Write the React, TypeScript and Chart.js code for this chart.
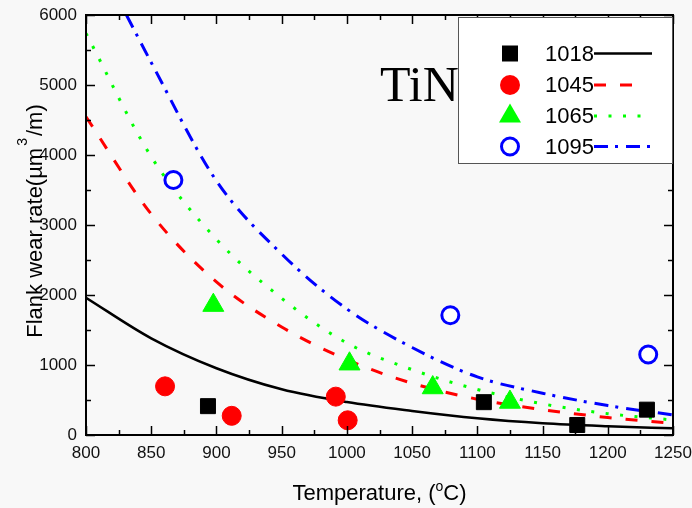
import React, { useEffect, useRef } from "react";
import { Chart, registerables } from "chart.js";

Chart.register(...registerables);

// Fitted curves
const fitTemps = [800, 850, 900, 950, 1000, 1050, 1100, 1150, 1200, 1250];
const fit1018 = [1961, 1381, 954, 653, 470, 343, 238, 167, 125, 95];
const fit1045 = [4547, 3157, 2186, 1543, 1077, 739, 512, 362, 250, 166];
const fit1065 = [5738, 3976, 2796, 1953, 1314, 934, 650, 445, 305, 214];
const fit1095Temps = [831, 850, 900, 950, 1000, 1050, 1100, 1150, 1200, 1250];
const fit1095 = [6000, 5321, 3630, 2586, 1800, 1250, 830, 597, 420, 286];

// Measured points
const temps1018 = [893.5, 1105, 1176.6, 1230];
const rates1018 = [412, 469, 143, 362];
const temps1045 = [860.6, 911.7, 991.5, 1000.6];
const rates1045 = [695, 274, 548, 210];
const temps1065 = [897.6, 1002, 1065.8, 1125];
const rates1065 = [1853, 1016, 676, 469];
const temps1095 = [867, 1079.3, 1231];
const rates1095 = [3643, 1710, 1150];

const seriesNames = ["1018", "1045", "1065", "1095"];
const seriesColors = ["#000000", "#ff0000", "#00ff00", "#0000ff"];
const seriesDashes: number[][] = [[], [12, 14], [3, 11.5], [14, 7, 3, 8]];

const xMin = 800;
const xMax = 1250;
const xStep = 50;
const yMin = 0;
const yMax = 6000;
const yStep = 1000;

const xTitleMain = "Temperature, (";
const xTitleSup = "o";
const xTitleEnd = "C)";
const yTitleMain = "Flank wear rate(µm";
const yTitleSup = "3";
const yTitleEnd = "/m)";
const annotationText = "TiN";

const SANS = "'Liberation Sans', Arial, sans-serif";
const SERIF = "'Liberation Serif', 'Times New Roman', serif";

const zip = (xs: number[], ys: number[]) => xs.map((x, i) => ({ x, y: ys[i] }));

function drawMarker(ctx: CanvasRenderingContext2D, kind: number, x: number, y: number) {
  ctx.save();
  if (kind === 0) {
    ctx.fillStyle = "#000";
    ctx.fillRect(x - 8, y - 8, 16, 16);
  } else if (kind === 1) {
    ctx.fillStyle = "#ff0000";
    ctx.beginPath();
    ctx.arc(x, y, 10, 0, Math.PI * 2);
    ctx.fill();
  } else if (kind === 2) {
    ctx.fillStyle = "#00ff00";
    ctx.beginPath();
    ctx.moveTo(x, y - 12.5);
    ctx.lineTo(x + 11, y + 6.5);
    ctx.lineTo(x - 11, y + 6.5);
    ctx.closePath();
    ctx.fill();
  } else {
    ctx.strokeStyle = "#0000ff";
    ctx.fillStyle = "#ffffff";
    ctx.lineWidth = 3;
    ctx.beginPath();
    ctx.arc(x, y, 8.5, 0, Math.PI * 2);
    ctx.fill();
    ctx.stroke();
  }
  ctx.restore();
}

const decorPlugin = {
  id: "decor",
  beforeDraw(chart: any) {
    const ctx = chart.ctx as CanvasRenderingContext2D;
    ctx.save();
    ctx.fillStyle = "#f8f8f8";
    ctx.fillRect(0, 0, chart.width, chart.height);
    ctx.restore();
  },
  afterDraw(chart: any) {
    const ctx = chart.ctx as CanvasRenderingContext2D;
    const area = chart.chartArea;
    const xs = chart.scales.x;
    const ys = chart.scales.y;
    ctx.save();

    // frame
    ctx.strokeStyle = "#000";
    ctx.lineWidth = 2;
    ctx.strokeRect(area.left, area.top, area.right - area.left, area.bottom - area.top);

    // inward ticks
    ctx.lineWidth = 1.5;
    ctx.beginPath();
    for (let v = xMin; v <= xMax; v += xStep / 2) {
      const px = Math.round(xs.getPixelForValue(v)) + 0.5;
      const len = (v - xMin) % xStep === 0 ? 9 : 5;
      ctx.moveTo(px, area.bottom);
      ctx.lineTo(px, area.bottom - len);
      ctx.moveTo(px, area.top);
      ctx.lineTo(px, area.top + len);
    }
    for (let v = yMin; v <= yMax; v += yStep / 2) {
      const py = Math.round(ys.getPixelForValue(v)) + 0.5;
      const len = (v - yMin) % yStep === 0 ? 9 : 5;
      ctx.moveTo(area.left, py);
      ctx.lineTo(area.left + len, py);
      ctx.moveTo(area.right, py);
      ctx.lineTo(area.right - len, py);
    }
    ctx.stroke();

    // annotation TiN
    ctx.fillStyle = "#000";
    ctx.font = `50px ${SERIF}`;
    ctx.textAlign = "left";
    ctx.textBaseline = "alphabetic";
    ctx.fillText(annotationText, 380, 101);

    // legend
    const lx = 458, ly = 17, lw = 214, lh = 146;
    ctx.fillStyle = "#ffffff";
    ctx.fillRect(lx, ly, lw, lh);
    ctx.strokeStyle = "#555";
    ctx.lineWidth = 1;
    ctx.strokeRect(lx + 0.5, ly + 0.5, lw, lh);
    const rowYs = [53.5, 85, 116, 146.5];
    const lineEnds = [652, 645, 647, 652];
    seriesNames.forEach((name, i) => {
      const ry = rowYs[i];
      drawMarker(ctx, i, 510, ry);
      ctx.save();
      ctx.strokeStyle = seriesColors[i];
      ctx.lineWidth = i === 0 ? 2.5 : 3;
      ctx.setLineDash(seriesDashes[i]);
      ctx.beginPath();
      ctx.moveTo(594, ry);
      ctx.lineTo(lineEnds[i], ry);
      ctx.stroke();
      ctx.restore();
      ctx.fillStyle = "#000";
      ctx.font = `22px ${SANS}`;
      ctx.textAlign = "left";
      ctx.textBaseline = "middle";
      ctx.fillText(name, 545, ry + 1);
    });

    // x title
    ctx.fillStyle = "#000";
    ctx.textBaseline = "alphabetic";
    ctx.textAlign = "left";
    const cx = (area.left + area.right) / 2;
    ctx.font = `22px ${SANS}`;
    const w1 = ctx.measureText(xTitleMain).width;
    const w3 = ctx.measureText(xTitleEnd).width;
    ctx.font = `14px ${SANS}`;
    const w2 = ctx.measureText(xTitleSup).width;
    let sx = cx - (w1 + w2 + w3) / 2;
    const by = 500;
    ctx.font = `22px ${SANS}`;
    ctx.fillText(xTitleMain, sx, by);
    sx += w1;
    ctx.font = `14px ${SANS}`;
    ctx.fillText(xTitleSup, sx, by - 9);
    sx += w2;
    ctx.font = `22px ${SANS}`;
    ctx.fillText(xTitleEnd, sx, by);

    // y title (rotated)
    const cy = (area.top + area.bottom) / 2 - 4;
    ctx.translate(42, cy);
    ctx.rotate(-Math.PI / 2);
    ctx.font = `22px ${SANS}`;
    const v1 = ctx.measureText(yTitleMain).width;
    const v3 = ctx.measureText(yTitleEnd).width;
    ctx.font = `14px ${SANS}`;
    const v2 = ctx.measureText(yTitleSup).width + 4;
    let tx = -(v1 + v2 + v3) / 2;
    ctx.font = `22px ${SANS}`;
    ctx.fillText(yTitleMain, tx, 0);
    tx += v1;
    ctx.font = `14px ${SANS}`;
    ctx.fillText(yTitleSup, tx + 2, -15);
    tx += v2;
    ctx.font = `22px ${SANS}`;
    ctx.fillText(yTitleEnd, tx, 0);

    ctx.restore();
  },
};

export default function App() {
  const canvasRef = useRef<HTMLCanvasElement | null>(null);

  useEffect(() => {
    document.body.style.margin = "0";
    document.body.style.background = "#f8f8f8";
    const canvas = canvasRef.current;
    if (!canvas) return;

    const pointSets = [
      { data: zip(temps1018, rates1018), style: "rect", radius: 10.6, bg: "#000000", border: "#000000", bw: 1 },
      { data: zip(temps1045, rates1045), style: "circle", radius: 9.5, bg: "#ff0000", border: "#ff0000", bw: 1 },
      { data: zip(temps1065, rates1065), style: "triangle", radius: 12.1, bg: "#00ff00", border: "#00ff00", bw: 1 },
      { data: zip(temps1095, rates1095), style: "circle", radius: 8.5, bg: "#ffffff", border: "#0000ff", bw: 3 },
    ];
    const fits = [
      zip(fitTemps, fit1018),
      zip(fitTemps, fit1045),
      zip(fitTemps, fit1065),
      zip(fit1095Temps, fit1095),
    ];

    const datasets: any[] = [];
    pointSets.forEach((p, i) => {
      datasets.push({
        label: seriesNames[i],
        data: p.data,
        showLine: false,
        pointStyle: p.style,
        pointRadius: p.radius,
        pointHoverRadius: p.radius,
        pointBackgroundColor: p.bg,
        pointBorderColor: p.border,
        pointBorderWidth: p.bw,
        order: 0,
      });
    });
    fits.forEach((d, i) => {
      datasets.push({
        label: seriesNames[i] + " fit",
        data: d,
        showLine: true,
        pointRadius: 0,
        pointHoverRadius: 0,
        borderColor: seriesColors[i],
        borderWidth: i === 0 ? 2.5 : 3,
        borderDash: seriesDashes[i],
        cubicInterpolationMode: "monotone",
        fill: false,
        order: 1,
      });
    });

    const chart = new Chart(canvas, {
      type: "scatter",
      data: { datasets },
      options: {
        animation: false,
        responsive: false,
        devicePixelRatio: 1,
        events: [],
        layout: { padding: { top: 15, right: 19, left: 0, bottom: 0 } },
        plugins: { legend: { display: false }, tooltip: { enabled: false } },
        scales: {
          x: {
            type: "linear",
            min: xMin,
            max: xMax,
            grid: { display: false, drawTicks: false },
            border: { display: false },
            ticks: {
              stepSize: xStep,
              padding: 8,
              color: "#111",
              font: { size: 17, family: SANS },
              maxRotation: 0,
              callback: (v: any) => String(v),
            },
            afterFit: (s: any) => {
              s.height = 73;
              s.paddingLeft = 0;
              s.paddingRight = 0;
            },
          },
          y: {
            type: "linear",
            min: yMin,
            max: yMax,
            grid: { display: false, drawTicks: false },
            border: { display: false },
            ticks: {
              stepSize: yStep,
              padding: 9,
              color: "#111",
              font: { size: 17, family: SANS },
              callback: (v: any) => String(v),
            },
            afterFit: (s: any) => {
              s.width = 86;
              s.paddingTop = 0;
              s.paddingBottom = 0;
            },
          },
        },
      },
      plugins: [decorPlugin],
    });

    return () => {
      chart.destroy();
    };
  }, []);

  return (
    <div style={{ width: 692, height: 508 }}>
      <canvas ref={canvasRef} width={692} height={508} style={{ display: "block" }} />
    </div>
  );
}
